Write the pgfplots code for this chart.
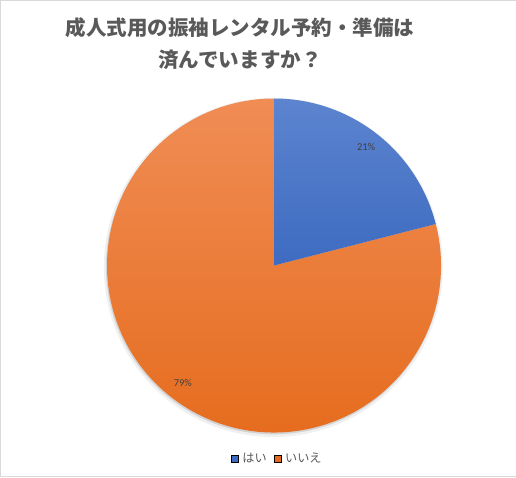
\documentclass[border=0pt]{standalone}
\usepackage{fontspec}
\setmainfont{Carlito}
\newfontfamily\cjk{Noto Sans CJK JP}
\usepackage{pgfplots}
\usepackage{pgfplotstable}
\pgfplotsset{compat=1.18}

\definecolor{blueTop}{HTML}{5C84CF}
\definecolor{blueBot}{HTML}{3E6BC1}
\definecolor{orangeTop}{HTML}{F08D55}
\definecolor{orangeBot}{HTML}{E56B1C}
\definecolor{titlegray}{HTML}{595959}
\definecolor{labelgray}{HTML}{404040}

% answer share (%)
\pgfplotstableread{
answer value
hai    21
iie    79
}\piedata

\pgfplotstablegetelem{0}{value}\of\piedata \let\valA\pgfplotsretval
\pgfplotstablegetelem{1}{value}\of\piedata \let\valB\pgfplotsretval
\pgfmathsetmacro{\angA}{90-3.6*\valA}
\pgfmathsetmacro{\angB}{\angA-3.6*\valB}
\pgfmathsetmacro{\midA}{(90+\angA)/2}
\pgfmathsetmacro{\midB}{(\angA+\angB)/2}
\pgfmathsetmacro{\xA}{cos(\angA)}
\pgfmathsetmacro{\yA}{sin(\angA)}
\pgfmathsetmacro{\lxA}{0.9*cos(\midA)}
\pgfmathsetmacro{\lyA}{0.9*sin(\midA)}
\pgfmathsetmacro{\lxB}{0.89*cos(\midB)}
\pgfmathsetmacro{\lyB}{0.89*sin(\midB)}

\begin{document}
\begin{tikzpicture}
\useasboundingbox (0,0) rectangle (516bp,478bp);
\draw[gray!30, line width=1bp] (515.5bp,477.5bp) -- (0.5bp,477.5bp) -- (0.5bp,1.5bp) -- (515.5bp,1.5bp);

\node[text=titlegray, align=center, font=\cjk\bfseries\fontsize{20.6}{32}\selectfont]
  at (240bp,434bp) {成人式用の振袖レンタル予約・準備は\\済んでいますか？};

\begin{axis}[
    hide axis,
    x=167bp, y=167bp,
    xmin=-1, xmax=1, ymin=-1, ymax=1,
    anchor=center, at={(274bp,212.5bp)},
    clip=false,
    legend columns=2,
    legend style={draw=none, fill=none, at={(rel axis cs:0.51,-0.078)}, anchor=center,
        font=\cjk\fontsize{12.2}{12}\selectfont, text=titlegray,
        /tikz/every odd column/.append style={column sep=2bp},
        /tikz/every even column/.append style={column sep=5bp}},
    legend image code/.code={\fill[#1] (0bp,-3.5bp) rectangle (7bp,3.5bp);},
]
\addlegendimage{fill=blueBot}
\addlegendentry{はい}
\addlegendimage{fill=orangeBot}
\addlegendentry{いいえ}

% soft shadow
\fill[black, opacity=0.06] (axis cs:-0.004,-0.012) circle[radius=169.5bp];
\fill[black, opacity=0.12] (axis cs:-0.003,-0.008) circle[radius=167.5bp];

\shade[top color=orangeTop, bottom color=orangeBot]
  (axis cs:0,0) -- (axis cs:\xA,\yA) arc[start angle=\angA, end angle=\angB, radius=167bp] -- cycle;
\shade[top color=blueTop, bottom color=blueBot]
  (axis cs:0,0) -- (axis cs:0,1) arc[start angle=90, end angle=\angA, radius=167bp] -- cycle;

\node[text=labelgray, font=\fontsize{10.5}{12}\selectfont]
  at (axis cs:\lxA,\lyA) {\valA\%};
\node[text=labelgray, font=\fontsize{10.5}{12}\selectfont]
  at (axis cs:\lxB,\lyB) {\valB\%};
\end{axis}
\end{tikzpicture}
\end{document}
